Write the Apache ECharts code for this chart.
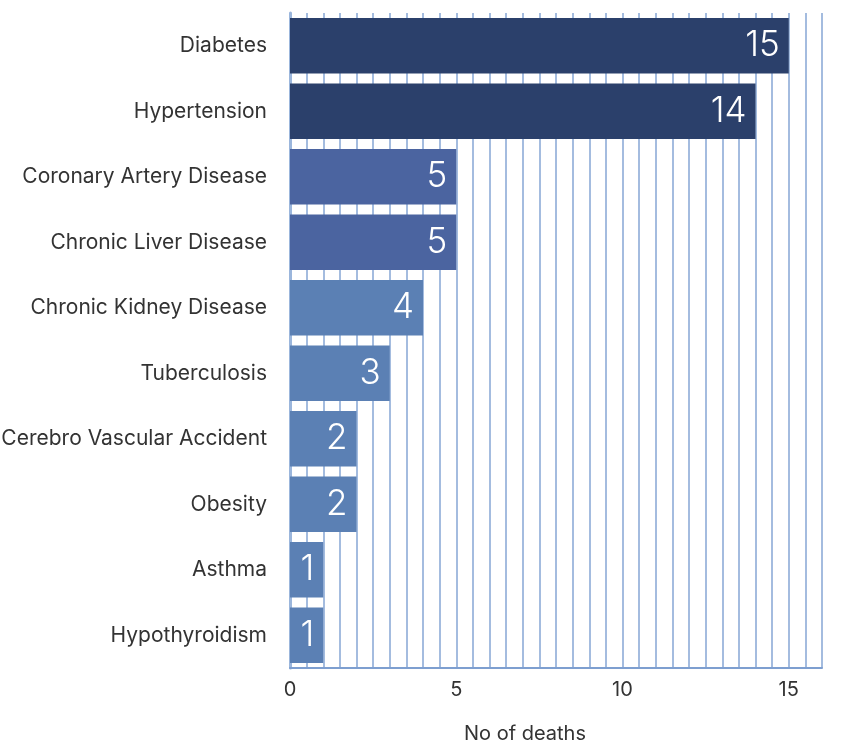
<!DOCTYPE html>
<html>
<head>
<meta charset="utf-8">
<script src="https://cdn.jsdelivr.net/npm/echarts@6/dist/echarts.min.js"></script>
<style>html,body{margin:0;padding:0;background:#fff}#c{width:843px;height:746px}</style>
</head>
<body>
<div id="c"></div>
<script>
const categories = ["Diabetes","Hypertension","Coronary Artery Disease","Chronic Liver Disease","Chronic Kidney Disease","Tuberculosis","Cerebro Vascular Accident","Obesity","Asthma","Hypothyroidism"];
const deaths = [15,14,5,5,4,3,2,2,1,1];
const barColors = ["#2b406b","#2b406b","#4b64a0","#4b64a0","#5b80b4","#5b80b4","#5b80b4","#5b80b4","#5b80b4","#5b80b4"];
const xTickLabels = [0,5,10,15];

const chart = echarts.init(document.getElementById('c'));
chart.setOption({
  animation:false,
  grid:{left:290,right:21,top:13,bottom:78,containLabel:false,outerBoundsMode:'none'},
  xAxis:{
    type:'value',min:0,max:16,interval:0.5,
    name:'No of deaths',nameLocation:'middle',nameGap:56,
    nameTextStyle:{fontFamily:'Inter',fontSize:20,color:'#333',padding:[0,62,0,0]},
    axisLine:{show:true,lineStyle:{color:'#7e9fd0',width:2}},
    axisTick:{show:false},
    axisLabel:{fontFamily:'Inter',fontSize:20,color:'#333',margin:12,
      formatter:v=>xTickLabels.indexOf(v)>=0?String(v):''},
    splitLine:{show:true,lineStyle:{color:'#86a6d4',width:1.5}}
  },
  yAxis:{
    type:'category',data:categories,inverse:true,
    axisLine:{show:true,lineStyle:{color:'#9bb6dc',width:3}},
    axisTick:{show:false},
    axisLabel:{fontFamily:'Inter',fontSize:21,color:'#333',margin:23}
  },
  series:[{
    type:'bar',
    data:deaths.map((v,i)=>({value:v,itemStyle:{color:barColors[i]}})),
    barCategoryGap:'15%',
    label:{show:true,position:'insideRight',distance:9,color:'#fff',fontFamily:'Inter',fontWeight:300,fontSize:35}
  }]
});
</script>
</body>
</html>
